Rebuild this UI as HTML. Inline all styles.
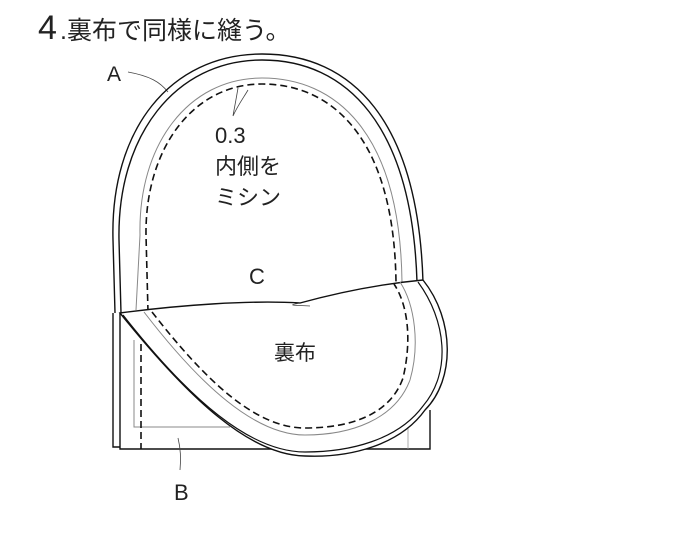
<!DOCTYPE html>
<html><head><meta charset="utf-8"><style>
html,body{margin:0;padding:0;background:#fff}
svg{display:block}
text{font-family:"Liberation Sans","Noto Sans CJK JP",sans-serif;fill:#222}
</style></head><body>
<svg width="680" height="534" viewBox="0 0 680 534" xmlns="http://www.w3.org/2000/svg">
<text x="38" y="39" font-size="34">4</text>
<text x="60" y="39" font-size="25">.裏布で同様に縫う。</text>
<text x="107" y="81" font-size="21">A</text>
<path d="M128,72 C150,76 160,82 168,92" fill="none" stroke="#444" stroke-width="0.8"/>
<!-- rectangle B -->
<g fill="none" stroke="#111" stroke-width="1.4">
<path d="M113,313 L113,447 L120,447"/>
<path d="M120,313 L120,449 L430,449 L430,410"/>
</g>
<path d="M134,340 L134,427 L230,427" fill="none" stroke="#888" stroke-width="1"/>
<path d="M141,344 L141,449" fill="none" stroke="#111" stroke-width="1.6" stroke-dasharray="7,4"/>
<path d="M408,420 L408,449" fill="none" stroke="#999" stroke-width="0.8"/>
<!-- main shape A -->
<g fill="none" stroke="#111" stroke-width="1.4">
<path d="M115,313 L113,240 C110,130 170,54 262,54 C352,54 418,120 423,282"/>
<path d="M121,313 L119,240 C117,136 175,60 262,60 C346,60 412,124 417,282"/>
</g>
<path d="M136,310 L140,235 C138,145 188,78 262,78 C334,78 400,130 402,282" fill="none" stroke="#888" stroke-width="1"/>
<path d="M148,312 L146,235 C145,150 192,84 262,84 C330,84 394,135 396,282" fill="none" stroke="#111" stroke-width="1.6" stroke-dasharray="7,4"/>
<path d="M238,88 C236,100 234,110 233,116 C238,105 244,97 248,90" fill="none" stroke="#444" stroke-width="0.8"/>
<!-- flap (lining) -->
<path d="M120,313 C180,305 250,300 300,303 C340,292 380,284 423,280 C455,320 455,380 425,410 C400,445 350,458 305,456 C250,455 190,400 120,313 Z" fill="#fff" stroke="#111" stroke-width="1.4"/>
<path d="M123,315 C190,400 250,452 305,452 C350,452 398,440 423,406 C452,372 446,320 418,282" fill="none" stroke="#111" stroke-width="1.2"/>
<path d="M144,312 C200,385 255,435 305,435 C350,435 395,420 410,380 C420,345 415,305 400,282" fill="none" stroke="#888" stroke-width="1"/>
<path d="M152,312 C205,380 255,428 305,428 C350,428 390,415 403,378 C412,340 408,305 394,284" fill="none" stroke="#111" stroke-width="1.6" stroke-dasharray="7,4"/>
<path d="M300,303 C285,306 295,305 310,306" fill="none" stroke="#444" stroke-width="0.8"/>
<path d="M178,438 C181,450 181,460 180,470" fill="none" stroke="#444" stroke-width="0.8"/>
<text x="215" y="143" font-size="22">0.3</text>
<text x="215" y="174" font-size="22">内側を</text>
<text x="215" y="205" font-size="22">ミシン</text>
<text x="249" y="284" font-size="22">C</text>
<text x="274" y="360" font-size="21">裏布</text>
<text x="174" y="500" font-size="22">B</text>
</svg>
</body></html>
